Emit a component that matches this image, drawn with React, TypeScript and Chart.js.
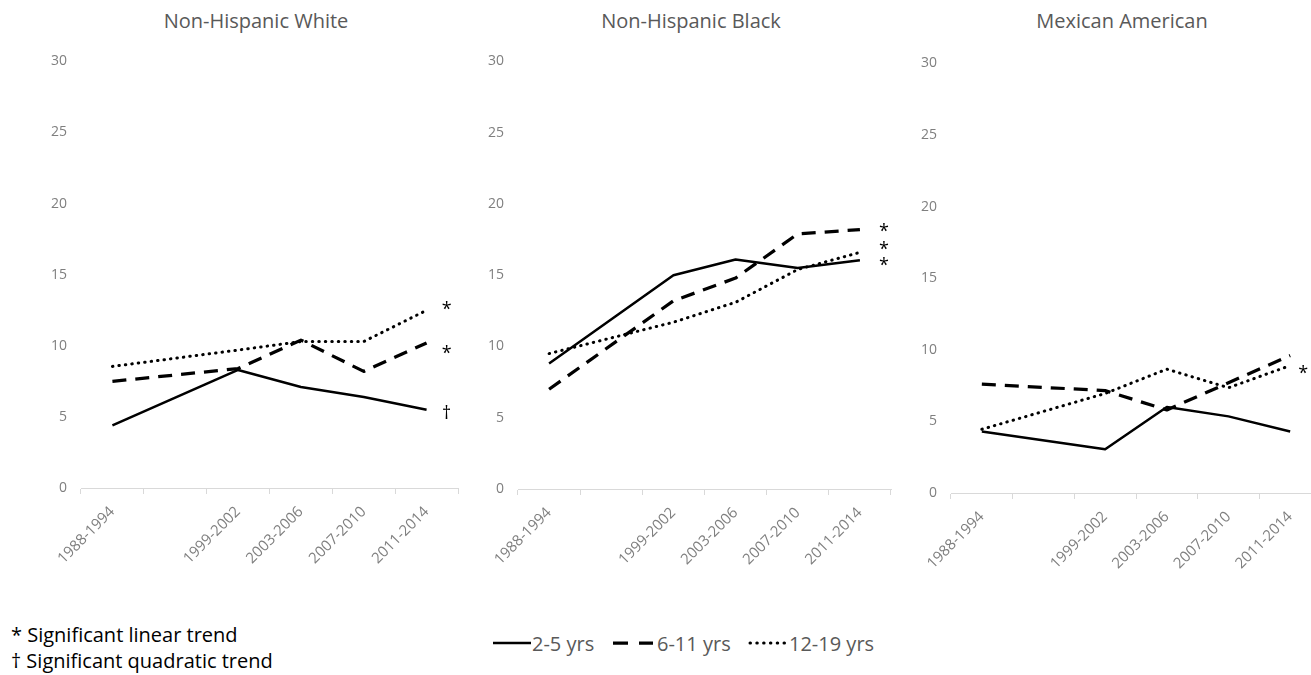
import React, { useEffect, useRef } from 'react';
import { Chart, registerables } from 'chart.js';

Chart.register(...registerables);

// ---------- data ----------
const categories = ['1988-1994', '', '1999-2002', '2003-2006', '2007-2010', '2011-2014'];
const seriesNames = ['2-5 yrs', '6-11 yrs', '12-19 yrs'];
const yTickValues = [0, 5, 10, 15, 20, 25, 30];
const panelTitles = ['Non-Hispanic White', 'Non-Hispanic Black', 'Mexican American'];

const whiteAge2to5 = [4.4, null, 8.3, 7.1, 6.4, 5.5];
const whiteAge6to11 = [7.5, null, 8.4, 10.4, 8.2, 10.2];
const whiteAge12to19 = [8.55, null, 9.7, 10.3, 10.3, 12.5];

const blackAge2to5 = [8.8, null, 15.0, 16.1, 15.5, 16.05];
const blackAge6to11 = [7.0, null, 13.2, 14.8, 17.9, 18.2];
const blackAge12to19 = [9.5, null, 11.7, 13.1, 15.4, 16.6];

const mexicanAge2to5 = [4.3, null, 3.05, 6.0, 5.35, 4.3];
const mexicanAge6to11 = [7.6, null, 7.15, 5.8, 7.7, 9.6];
const mexicanAge12to19 = [4.45, null, 6.95, 8.65, 7.35, 8.9];

const noteLines = ['* Significant linear trend', '\u2020 Significant quadratic trend'];

// ---------- styles ----------
const FONT = "'Open Sans', sans-serif";
const TICK_COLOR = '#7f7f7f';
const TITLE_COLOR = '#595959';
const AXIS_COLOR = '#d9d9d9';

const seriesStyles = [
  { borderWidth: 2.5, borderDash: [] as number[], borderCapStyle: 'butt' },
  { borderWidth: 3.25, borderDash: [14, 9], borderCapStyle: 'butt' },
  { borderWidth: 3, borderDash: [0.5, 6], borderCapStyle: 'round' },
];

type Mark = { series: number; text: string; dy: number };

const marksPlugin = {
  id: 'trendMarks',
  afterDatasetsDraw(chart: any, _args: any, opts: any) {
    const { ctx } = chart;
    const xs = chart.scales.x;
    const ys = chart.scales.y;
    (opts.marks || []).forEach((m: Mark) => {
      const data = chart.data.datasets[m.series].data;
      const last = data.length - 1;
      const px = xs.getPixelForValue(last) + opts.dx;
      const py = ys.getPixelForValue(data[last]) + m.dy;
      ctx.save();
      ctx.font = `18px ${FONT}`;
      ctx.fillStyle = '#000';
      ctx.textAlign = 'center';
      ctx.textBaseline = 'alphabetic';
      ctx.fillText(m.text, px, py);
      ctx.restore();
    });
  },
};

type PanelProps = {
  left: number;
  top: number;
  width: number;
  height: number;
  yAxisWidth: number;
  xAxisHeight: number;
  series: (number | null)[][];
  marks: Mark[];
  markDx: number;
};

function Panel(p: PanelProps) {
  const ref = useRef<HTMLCanvasElement | null>(null);
  useEffect(() => {
    if (!ref.current) return;
    const chart = new Chart(ref.current, {
      type: 'line',
      data: {
        labels: categories,
        datasets: p.series.map((d, i) => ({
          label: seriesNames[i],
          data: d,
          borderColor: '#000',
          backgroundColor: '#000',
          borderWidth: seriesStyles[i].borderWidth,
          borderDash: seriesStyles[i].borderDash,
          borderCapStyle: seriesStyles[i].borderCapStyle as any,
          borderJoinStyle: 'round',
          pointRadius: 0,
          pointHoverRadius: 0,
          tension: 0,
          spanGaps: true,
          fill: false,
        })),
      },
      options: {
        animation: false,
        responsive: false,
        devicePixelRatio: 1,
        events: [],
        layout: { padding: { top: 20, right: 10, left: 0, bottom: 0 } },
        plugins: {
          legend: { display: false },
          tooltip: { enabled: false },
          title: { display: false },
          trendMarks: { marks: p.marks, dx: p.markDx },
        } as any,
        scales: {
          x: {
            type: 'category',
            offset: true,
            grid: {
              display: true,
              offset: true,
              drawOnChartArea: false,
              drawTicks: true,
              tickLength: 6,
              color: AXIS_COLOR,
              lineWidth: 1,
            },
            border: { display: true, color: AXIS_COLOR, width: 1 },
            ticks: {
              autoSkip: false,
              minRotation: 45,
              maxRotation: 45,
              padding: 9,
              color: TICK_COLOR,
              font: { family: FONT, size: 15 },
            },
            afterFit: (s: any) => {
              s.height = p.xAxisHeight;
            },
          },
          y: {
            min: 0,
            max: 30,
            afterBuildTicks: (s: any) => {
              s.ticks = yTickValues.map((v) => ({ value: v }));
            },
            ticks: {
              padding: 14,
              color: TICK_COLOR,
              font: { family: FONT, size: 14 },
            },
            grid: { display: false, drawTicks: false, tickLength: 0 },
            border: { display: false },
            afterFit: (s: any) => {
              s.width = p.yAxisWidth;
            },
          },
        },
      },
      plugins: [marksPlugin as any],
    });
    return () => chart.destroy();
  }, []);
  return (
    <div style={{ position: 'absolute', left: p.left, top: p.top, width: p.width, height: p.height }}>
      <canvas ref={ref} width={p.width} height={p.height} style={{ width: p.width, height: p.height, display: 'block' }} />
    </div>
  );
}

function Title({ text, center }: { text: string; center: number }) {
  return (
    <div
      style={{
        position: 'absolute',
        left: center - 200,
        width: 400,
        top: 8,
        textAlign: 'center',
        fontSize: 20,
        lineHeight: '26px',
        color: TITLE_COLOR,
        whiteSpace: 'nowrap',
      }}
    >
      {text}
    </div>
  );
}

function LegendSample({ kind }: { kind: number }) {
  const st = seriesStyles[kind];
  return (
    <svg width={kind === 1 ? 40 : 38} height={10} style={{ display: 'block' }}>
      <line
        x1={kind === 2 ? 2 : 0}
        y1={5}
        x2={kind === 1 ? 40 : 38}
        y2={5}
        stroke="#000"
        strokeWidth={st.borderWidth}
        strokeDasharray={kind === 1 ? '15 11' : kind === 2 ? '0.5 6.3' : undefined}
        strokeLinecap={kind === 2 ? 'round' : 'butt'}
      />
    </svg>
  );
}

export default function App() {
  useEffect(() => {
    document.body.style.margin = '0';
    document.body.style.overflow = 'hidden';
  }, []);

  const legendItems = [
    { sample: 493, text: 532 },
    { sample: 613, text: 657 },
    { sample: 748, text: 789 },
  ];

  return (
    <div
      style={{
        position: 'absolute',
        left: 0,
        top: 0,
        width: 1311,
        height: 675,
        overflow: 'hidden',
        background: '#fff',
        fontFamily: FONT,
      }}
    >
      <Panel
        left={10}
        top={39}
        width={458}
        height={549}
        yAxisWidth={71}
        xAxisHeight={100}
        series={[whiteAge2to5, whiteAge6to11, whiteAge12to19]}
        marks={[
          { series: 2, text: '*', dy: 5 },
          { series: 1, text: '*', dy: 16 },
          { series: 0, text: '\u2020', dy: 9 },
        ]}
        markDx={20}
      />
      <Panel
        left={470}
        top={39}
        width={431}
        height={550}
        yAxisWidth={48}
        xAxisHeight={100}
        series={[blackAge2to5, blackAge6to11, blackAge12to19]}
        marks={[
          { series: 1, text: '*', dy: 7 },
          { series: 2, text: '*', dy: 2.5 },
          { series: 0, text: '*', dy: 10.5 },
        ]}
        markDx={24}
      />
      <Panel
        left={905}
        top={41}
        width={426}
        height={552}
        yAxisWidth={46}
        xAxisHeight={100}
        series={[mexicanAge2to5, mexicanAge6to11, mexicanAge12to19]}
        marks={[{ series: 2, text: '*', dy: 13.5 }]}
        markDx={13}
      />

      <Title text={panelTitles[0]} center={256} />
      <Title text={panelTitles[1]} center={691} />
      <Title text={panelTitles[2]} center={1122} />

      {noteLines.map((t, i) => (
        <div
          key={t}
          style={{
            position: 'absolute',
            left: 11,
            top: 622 + i * 25.5,
            fontSize: 20,
            lineHeight: '26px',
            color: '#000',
            whiteSpace: 'nowrap',
          }}
        >
          {t}
        </div>
      ))}

      {legendItems.map((it, i) => (
        <React.Fragment key={seriesNames[i]}>
          <div style={{ position: 'absolute', left: it.sample, top: 638 }}>
            <LegendSample kind={i} />
          </div>
          <div
            style={{
              position: 'absolute',
              left: it.text,
              top: 631,
              fontSize: 20,
              lineHeight: '26px',
              color: TITLE_COLOR,
              whiteSpace: 'nowrap',
            }}
          >
            {seriesNames[i]}
          </div>
        </React.Fragment>
      ))}
    </div>
  );
}
